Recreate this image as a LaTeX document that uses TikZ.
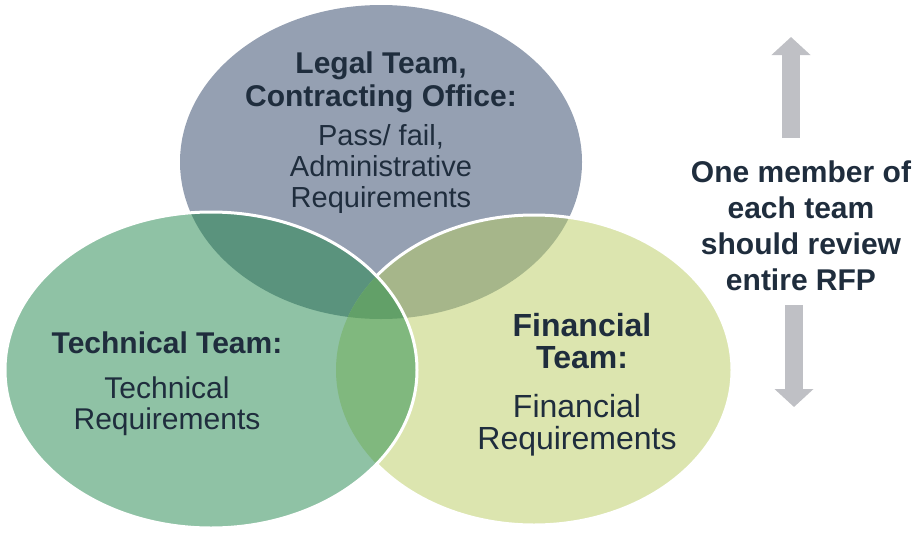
\documentclass[tikz,border=0pt]{standalone}
\usepackage{fontspec}
\setmainfont{Liberation Sans}
\usetikzlibrary{arrows.meta,positioning}
\definecolor{vlegal}{HTML}{95A0B2}
\definecolor{vfin}{HTML}{DCE5AF}
\definecolor{vtech}{HTML}{8FC2A5}
\definecolor{vlegfin}{HTML}{A6B68A}
\definecolor{vlegtech}{HTML}{5A937D}
\definecolor{vtechfin}{HTML}{80B87E}
\definecolor{vall}{HTML}{62A068}
\definecolor{vtext}{HTML}{1F2D3D}
\definecolor{varrow}{HTML}{BFC0C5}
\tikzset{
  teamhead/.style={font=\fontsize{30}{33}\selectfont\bfseries, text=vtext, align=center, inner sep=0pt},
  teamtext/.style={font=\fontsize{29}{31}\selectfont, text=vtext, align=center, inner sep=0pt},
  rim/.style={draw=white, line width=3pt},
  bigarr/.style={draw=varrow, line width=18pt, -{Triangle[length=18pt,width=38pt]}},
}
\newcommand{\legalset}{(381,162) ellipse [x radius=201, y radius=157]}
\newcommand{\finset}{(534,370) ellipse [x radius=198, y radius=155]}
\newcommand{\techset}{(211,370) ellipse [x radius=206, y radius=158]}
\begin{document}
\begin{tikzpicture}[x=1pt, y=-1pt]
  \useasboundingbox (0,0) rectangle (923,533);
  % circles and their overlaps
  \fill[vlegal] \legalset;
  \fill[vfin] \finset;
  \begin{scope}
    \clip \legalset;
    \fill[vlegfin] \finset;
  \end{scope}
  \draw[rim] \finset;
  \fill[vtech] \techset;
  \begin{scope}
    \clip \techset;
    \fill[vlegtech] \legalset;
    \fill[vtechfin] \finset;
    \clip \legalset;
    \fill[vall] \finset;
  \end{scope}
  \draw[rim] \techset;

  % labels
  \node[teamhead] (legal) at (381,82) {Legal Team,\\Contracting Office:};
  \node[teamtext, below=12pt of legal] (legalreq) {Pass/ fail,\\Administrative\\Requirements};
  \node[teamhead] (tech) at (167,343) {Technical Team:};
  \node[teamtext, font=\fontsize{30}{31}\selectfont, below=22pt of tech] (techreq) {Technical\\Requirements};
  \node[teamhead, font=\fontsize{32}{32}\selectfont\bfseries] (fin) at (582,341) {Financial\\Team:};
  \node[teamtext, font=\fontsize{32}{32}\selectfont, below=25pt of fin, xshift=-5pt] (finreq) {Financial\\Requirements};
  \node[teamhead, font=\fontsize{30}{36}\selectfont\bfseries] (msg) at (801,226)
    {One member of\\each team\\should review\\entire RFP};

  % arrows
  \coordinate (upbase) at (791,138);
  \coordinate (uptip) at (791,37);
  \coordinate (downbase) at (794,305);
  \coordinate (downtip) at (794,407);
  \draw[bigarr] (upbase) -- (uptip);
  \draw[bigarr] (downbase) -- (downtip);
\end{tikzpicture}
\end{document}
